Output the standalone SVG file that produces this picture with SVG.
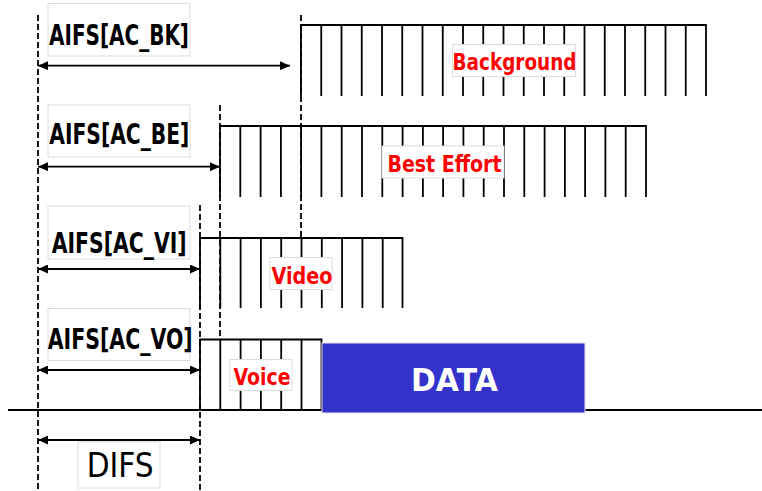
<svg xmlns="http://www.w3.org/2000/svg" width="762" height="491" viewBox="0 0 762 491">
<style>
.ln{stroke:#000;stroke-width:1.8;fill:none}
.dash{stroke:#000;stroke-width:1.8;stroke-dasharray:6 3;fill:none}
.lbl{fill:#fff;stroke:#dcdcdc;stroke-width:1}
.aifs{font-family:"DejaVu Sans",sans-serif;font-weight:bold;font-size:28px;fill:#000}
.ac{font-family:"DejaVu Sans",sans-serif;font-weight:bold;font-size:23px;fill:#ff0000}
.arr{stroke:#000;stroke-width:1.8;fill:none;marker-start:url(#ah);marker-end:url(#ah)}
</style>
<defs>
<marker id="ah" markerUnits="userSpaceOnUse" markerWidth="10" markerHeight="9" refX="10" refY="4.5" orient="auto-start-reverse">
<path d="M0,0 L10,4.5 L0,9 Z" fill="#000"/>
</marker>
</defs>
<rect width="762" height="491" fill="#fff"/>

<g id="connectors">
<path class="dash" d="M38,15 V491"/>
<path class="dash" d="M200,205 V491"/>
<path class="dash" d="M220,105 V339"/>
<path class="dash" d="M301,15 V237"/>
<path class="ln" d="M8,410 H762"/>
<path class="arr" d="M38,65.7 H290"/>
<path class="arr" d="M38,166.7 H220"/>
<path class="arr" d="M38,269 H200"/>
<path class="arr" d="M38,370 H200"/>
<path class="arr" d="M38,440 H200"/>
</g>

<g id="background">
<path class="ln" d="M301,96 V25 H706 V96 M321.25,25 V96 M341.5,25 V96 M361.75,25 V96 M382,25 V96 M402.25,25 V96 M422.5,25 V96 M442.75,25 V96 M463,25 V96 M483.25,25 V96 M503.5,25 V96 M523.75,25 V96 M544,25 V96 M564.25,25 V96 M584.5,25 V96 M604.75,25 V96 M625,25 V96 M645.25,25 V96 M665.5,25 V96 M685.75,25 V96"/>
<rect class="lbl" x="452.5" y="44.5" width="123" height="32"/>
<text class="ac" x="452.5" y="70" textLength="124" lengthAdjust="spacingAndGlyphs">Background</text>
</g>

<g id="best-effort">
<path class="ln" d="M220,197 V126 H646 V197 M240.3,126 V197 M260.6,126 V197 M280.9,126 V197 M301.1,126 V197 M321.4,126 V197 M341.7,126 V197 M362,126 V197 M382.3,126 V197 M402.6,126 V197 M422.9,126 V197 M443.1,126 V197 M463.4,126 V197 M483.7,126 V197 M504,126 V197 M524.3,126 V197 M544.6,126 V197 M564.9,126 V197 M585.1,126 V197 M605.4,126 V197 M625.7,126 V197"/>
<rect class="lbl" x="382" y="146" width="122" height="32"/>
<text class="ac" x="387.5" y="172" textLength="114" lengthAdjust="spacingAndGlyphs">Best Effort</text>
</g>

<g id="video">
<path class="ln" d="M200,308 V238 H402.5 V308 M220.3,238 V308 M240.6,238 V308 M260.9,238 V308 M281.2,238 V308 M301.5,238 V308 M321.8,238 V308 M342.1,238 V308 M362.4,238 V308 M382.7,238 V308"/>
<rect class="lbl" x="270" y="257.5" width="62" height="32"/>
<text class="ac" x="271.5" y="284" textLength="61" lengthAdjust="spacingAndGlyphs">Video</text>
</g>

<g id="voice">
<path class="ln" d="M200,410 V339.5 H321.5 V410 M220.3,339.5 V410 M240.6,339.5 V410 M260.9,339.5 V410 M281.2,339.5 V410 M301.5,339.5 V410"/>
<rect class="lbl" x="230" y="359.5" width="62" height="31"/>
<text class="ac" x="233.5" y="384.5" textLength="57" lengthAdjust="spacingAndGlyphs">Voice</text>
</g>

<g id="data">
<rect x="322" y="343" width="263" height="70" fill="#3333cc" stroke="#e6e6f2" stroke-width="1"/>
<text x="411" y="391" font-family="DejaVu Sans, sans-serif" font-weight="bold" font-size="32" fill="#fff" textLength="87" lengthAdjust="spacingAndGlyphs">DATA</text>
</g>

<g id="aifs-bk">
<rect class="lbl" x="48" y="3.5" width="142" height="52.5"/>
<text class="aifs" x="49" y="44.5" textLength="140" lengthAdjust="spacingAndGlyphs">AIFS[AC_BK]</text>
</g>
<g id="aifs-be">
<rect class="lbl" x="48" y="105" width="142" height="52"/>
<text class="aifs" x="49.3" y="144" textLength="140" lengthAdjust="spacingAndGlyphs">AIFS[AC_BE]</text>
</g>
<g id="aifs-vi">
<rect class="lbl" x="48" y="206" width="142" height="53"/>
<text class="aifs" x="51.7" y="252.5" textLength="135" lengthAdjust="spacingAndGlyphs">AIFS[AC_VI]</text>
</g>
<g id="aifs-vo">
<rect class="lbl" x="48" y="308.5" width="142" height="52"/>
<text class="aifs" x="47.7" y="348.5" textLength="145" lengthAdjust="spacingAndGlyphs">AIFS[AC_VO]</text>
</g>
<g id="difs">
<rect class="lbl" x="78" y="442" width="82" height="46"/>
<text x="86.7" y="476.5" font-family="DejaVu Sans, sans-serif" font-size="33" fill="#000" textLength="67" lengthAdjust="spacingAndGlyphs">DIFS</text>
</g>
</svg>
